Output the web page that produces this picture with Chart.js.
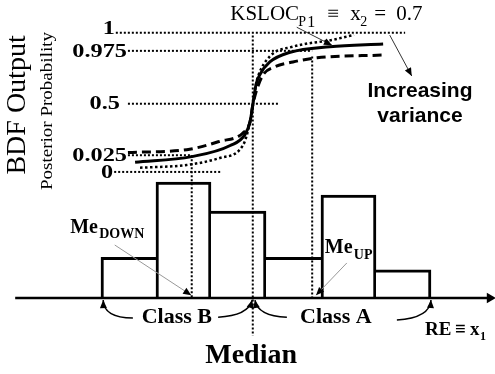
<!DOCTYPE html>
<html>
<head>
<meta charset="utf-8">
<script src="https://cdn.jsdelivr.net/npm/chart.js@4.4.1/dist/chart.umd.min.js"></script>
<style>
  html, body { margin: 0; padding: 0; background: #fff; }
  #wrap { width: 495px; height: 374px; }
</style>
</head>
<body>
<div id="wrap"><canvas id="chart" width="495" height="374"></canvas></div>
<script>
// histogram of RE (x1), one bin per class interval
const binCenters = [0.5, 1.5, 2.5, 3.5, 4.5, 5.5]
const binCounts = [1.4, 4, 3, 1.4, 3.55, 0.97]

// posterior probability ticks (schematic axis, so positions are not linear)
const probTickLabels = ['0', '0.025', '0.5', '0.975', '1']
const probTickPos = [0, 0.12, 0.49, 0.87, 1]
// dotted guide line for each tick, from / to in RE units
const guideFrom = [0.24, 0.49, 0.49, 0.49, 0.27]
const guideTo = [2.2, 1.65, 3.25, 3.84, 5.53]

// BDF output curves for KSLOC = 0.7 (solid), and with more / less variance
const solidX = [0.62, 1.65, 2.35, 2.62, 2.71, 2.76, 2.82, 2.89, 3.07, 3.44, 4.16, 5.13]
const solidP = [0.07, 0.11, 0.19, 0.27, 0.36, 0.48, 0.63, 0.70, 0.79, 0.86, 0.90, 0.92]
const dashedX = [0.49, 1.56, 2.16, 2.58, 2.71, 2.76, 2.84, 2.95, 3.13, 3.49, 3.93, 5.13]
const dashedP = [0.14, 0.16, 0.22, 0.28, 0.36, 0.48, 0.60, 0.70, 0.75, 0.79, 0.82, 0.84]
const dottedX = [0.71, 1.56, 2.16, 2.58, 2.71, 2.76, 2.82, 2.85, 3.07, 3.49, 4.22, 4.6]
const dottedP = [0.03, 0.05, 0.10, 0.19, 0.36, 0.48, 0.63, 0.68, 0.83, 0.90, 0.95, 0.985]

const medianRE = 2.76
const meDownRE = 1.65
const meUpRE = 3.84
const axisFrom = -1.56
const axisTo = 7.07

// the probability panel sits above the histogram on the same y scale
const PROB_BASE = 4.35
const PROB_SPAN = 4.8
const toY = p => PROB_BASE + PROB_SPAN * p

const pts = (xs, ps) => xs.map((v, i) => ({ x: v, y: toY(ps[i]) }))

const dotted = { borderColor: '#000', borderWidth: 2, borderDash: [2, 2], pointRadius: 0, fill: false }

const guides = probTickPos.map((p, i) => ({
  type: 'line', ...dotted,
  data: [{ x: guideFrom[i], y: toY(p) }, { x: guideTo[i], y: toY(p) }]
}))

const drops = [
  { type: 'line', ...dotted, data: [{ x: medianRE, y: toY(0.98) }, { x: medianRE, y: -1.3 }] },
  { type: 'line', ...dotted, data: [{ x: meDownRE, y: toY(0.12) }, { x: meDownRE, y: 0 }] },
  { type: 'line', ...dotted, data: [{ x: meUpRE, y: toY(0.83) }, { x: meUpRE, y: 0 }] }
]

const curve = (xs, ps, dash, w) => ({
  type: 'line', data: pts(xs, ps), borderColor: '#000', borderWidth: w, borderDash: dash,
  pointRadius: 0, fill: false, cubicInterpolationMode: 'monotone'
})

const last = binCounts.length - 1
const bars = {
  type: 'bar', order: 10,
  data: binCenters.map((c, i) => ({ x: c, y: binCounts[i] })),
  backgroundColor: '#fff', borderColor: '#000', borderSkipped: false,
  barPercentage: 1, categoryPercentage: 1,
  borderWidth: ctx => {
    const i = ctx.dataIndex
    return {
      top: 3, bottom: 0,
      left: (i === 0 || binCounts[i - 1] <= binCounts[i]) ? 3 : 0,
      right: (i === last || binCounts[i + 1] < binCounts[i]) ? 3 : 0
    }
  }
}

const axisLine = {
  type: 'line', data: [{ x: axisFrom, y: 0 }, { x: axisTo, y: 0 }],
  borderColor: '#000', borderWidth: 2.5, fill: false,
  pointRadius: [0, 6], pointStyle: 'triangle', pointRotation: 90,
  pointBackgroundColor: '#000', pointBorderColor: '#000', pointBorderWidth: 0
}

const serif = '"Liberation Serif", "Times New Roman", serif'
const sans = '"Liberation Sans", Arial, sans-serif'

const notes = {
  id: 'notes',
  afterDatasetsDraw(chart) {
    const { ctx, scales: { x, y } } = chart
    const X = v => x.getPixelForValue(v)
    const Y = v => y.getPixelForValue(v)
    ctx.save()
    ctx.fillStyle = '#000'
    ctx.strokeStyle = '#000'

    const text = (t, px, py, font, align = 'left', base = 'alphabetic', sx = 1) => {
      ctx.save()
      ctx.font = font
      ctx.textAlign = align
      ctx.textBaseline = base
      ctx.translate(px, py)
      ctx.scale(sx, 1)
      ctx.fillText(t, 0, 0)
      ctx.restore()
    }
    const head = (x1, y1, x2, y2, len, half) => {
      const a = Math.atan2(y2 - y1, x2 - x1)
      const c = Math.cos(a), s = Math.sin(a)
      ctx.beginPath()
      ctx.moveTo(x2, y2)
      ctx.lineTo(x2 - len * c + half * s, y2 - len * s - half * c)
      ctx.lineTo(x2 - len * c - half * s, y2 - len * s + half * c)
      ctx.closePath()
      ctx.fill()
    }
    const arrow = (a, b, c, d, color) => {
      const x1 = X(a), y1 = Y(b), x2 = X(c), y2 = Y(d)
      ctx.strokeStyle = color
      ctx.lineWidth = 1
      ctx.beginPath(); ctx.moveTo(x1, y1); ctx.lineTo(x2, y2); ctx.stroke()
      head(x1, y1, x2, y2, 8, 3.5)
    }
    const bend = (a, b, ca, cb, c, d) => {
      const x1 = X(a), y1 = Y(b), cx = X(ca), cy = Y(cb), x2 = X(c), y2 = Y(d)
      ctx.strokeStyle = '#000'
      ctx.lineWidth = 1.5
      ctx.beginPath(); ctx.moveTo(x1, y1); ctx.quadraticCurveTo(cx, cy, x2, y2); ctx.stroke()
      head(cx, cy, x2, y2, 8, 3.5)
    }

    // probability tick labels
    probTickLabels.forEach((t, i) => {
      const gap = t === '0.5' ? 8 : 1
      const yy = Y(toY(probTickPos[i]))
      if (t === '1') text(t, X(guideFrom[i]) - gap, yy + 1, 'bold 18px ' + serif, 'right', 'alphabetic', 1.35)
      else text(t, X(guideFrom[i]) - gap, yy + 1, 'bold 18px ' + serif, 'right', 'middle', 1.35)
    })

    // rotated axis titles
    ctx.save()
    ctx.translate(X(-1.51), Y(6.66))
    ctx.rotate(-Math.PI / 2)
    text('BDF Output', 0, 0, '28px ' + serif, 'center', 'middle')
    ctx.restore()
    ctx.save()
    ctx.translate(X(-0.98), Y(6.45))
    ctx.rotate(-Math.PI / 2)
    text('Posterior Probability', 0, 0, '17px ' + serif, 'center', 'middle', 1.12)
    ctx.restore()

    // KSLOC label with subscripts
    const kx = X(2.35), ky = Y(9.59)
    text('KSLOC', kx, ky, '21px ' + serif)
    text('P', kx + 68, ky + 6, '14px ' + serif)
    text('1', kx + 77, ky + 7, '16px ' + serif)
    text('\u2261', kx + 97, ky, '21px ' + serif)
    text('x', kx + 120, ky, '21px ' + serif)
    text('2', kx + 130, ky + 6, '14px ' + serif)
    text('=', kx + 144, ky, '21px ' + serif)
    text('0.7', kx + 166, ky, '21px ' + serif)
    arrow(3.56, 9.34, 4.2, 8.72, '#333')

    text('Increasing', X(5.8), Y(6.93), 'bold 21px ' + sans, 'center')
    text('variance', X(5.8), Y(6.07), 'bold 21px ' + sans, 'center')
    arrow(5.25, 9.07, 5.65, 7.66, '#333')

    // Me labels
    text('Me', X(-0.56), Y(2.24), 'bold 20px ' + serif)
    text('DOWN', X(-0.56) + 29, Y(2.24) + 5, 'bold 14px ' + serif)
    arrow(0.25, 1.83, 1.64, 0.1, '#999')
    text('Me', X(4.07), Y(1.55), 'bold 20px ' + serif)
    text('UP', X(4.07) + 29, Y(1.55) + 6, 'bold 14px ' + serif)
    arrow(4.47, 1.21, 3.91, 0.1, '#999')

    // class labels with bent arrows to the class limits
    text('Class B', X(1.38), Y(-0.86), 'bold 22px ' + serif, 'center')
    text('Class A', X(4.27), Y(-0.86), 'bold 22px ' + serif, 'center')
    bend(0.58, -0.69, 0.05, -0.69, 0.04, -0.07)
    bend(2.13, -0.66, 2.67, -0.62, 2.75, -0.07)
    bend(3.38, -0.66, 2.85, -0.62, 2.8, -0.07)
    bend(5.38, -0.76, 5.98, -0.69, 6.0, -0.07)

    text('Median', X(2.73), Y(-2.24), 'bold 28px ' + serif, 'center')

    const rx = X(5.89), ry = Y(-1.28)
    text('RE', rx, ry, 'bold 19px ' + serif)
    text('\u2261', rx + 30, ry, 'bold 19px ' + serif)
    text('x', rx + 45, ry, 'bold 19px ' + serif)
    text('1', rx + 55, ry + 5, 'bold 12px ' + serif)

    ctx.restore()
  }
}

new Chart(document.getElementById('chart'), {
  type: 'bar',
  data: {
    datasets: [
      axisLine,
      curve(solidX, solidP, [], 3),
      curve(dashedX, dashedP, [9, 5], 3),
      curve(dottedX, dottedP, [2.5, 2.5], 2.5),
      ...guides,
      ...drops,
      bars
    ]
  },
  options: {
    responsive: false,
    animation: false,
    layout: { padding: 0, autoPadding: false },
    plugins: { legend: { display: false }, tooltip: { enabled: false } },
    scales: {
      x: { type: 'linear', offset: false, min: -1.836, max: 7.164, display: false, ticks: { stepSize: 1, includeBounds: false } },
      y: { type: 'linear', min: -2.62, max: 10.28, display: false }
    }
  },
  plugins: [notes]
})
</script>
</body>
</html>
